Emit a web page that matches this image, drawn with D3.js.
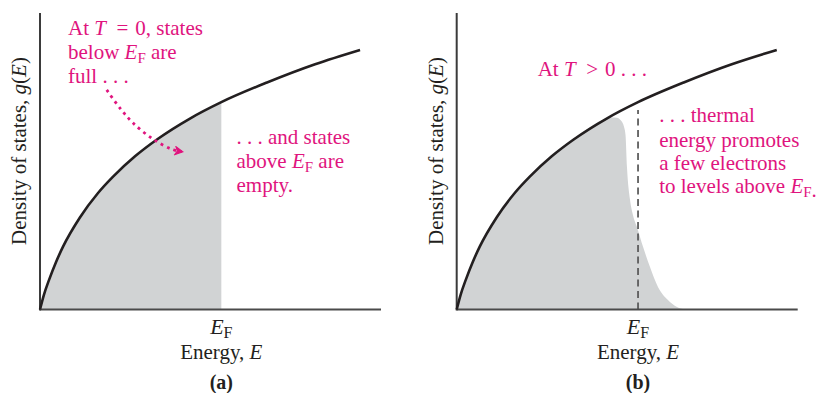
<!DOCTYPE html>
<html><head><meta charset="utf-8">
<script src="https://cdn.jsdelivr.net/npm/d3@7"></script>
<style>
html,body{margin:0;padding:0;background:#fff;}
svg text{font-family:"Liberation Serif","Times New Roman",serif;}
</style></head>
<body><svg id="c" width="817" height="393"></svg>
<script>
// Energy in units of E_F, density of states g(E) in arbitrary units
const energy = [0, 0.022, 0.050, 0.088, 0.127, 0.221, 0.320, 0.403, 0.524, 0.645, 0.827, 1.0, 1.252, 1.517, 1.765];
const dos    = [0, 0.072, 0.143, 0.228, 0.303, 0.445, 0.562, 0.641, 0.739, 0.820, 0.921, 1.0, 1.095, 1.183, 1.252];
// T > 0 : occupied states g(E) f(E) around E_F
const tailEnergy = [0.857, 0.884, 0.906, 0.923, 0.931, 0.939, 0.956, 0.972, 0.994, 1.028, 1.066, 1.110, 1.165, 1.215, 1.259];
const tailFilled = [0.926, 0.925, 0.911, 0.880, 0.842, 0.687, 0.528, 0.456, 0.398, 0.301, 0.205, 0.109, 0.046, 0.012, 0];
const fermiEnergy = 1.0;
const xDomain = [0, 1.875];
const yDomain = [0, 1.43];
// dotted arrow in panel (a), data coordinates
const arrowE = [0.368, 0.441, 0.515, 0.625, 0.726, 0.782];
const arrowG = [1.059, 0.971, 0.898, 0.821, 0.773, 0.761];

const PINK = "#e0147e";
const INK = "#231f20";
const svg = d3.select("#c");
const W = 340, H = 296.5;
const x = d3.scaleLinear().domain(xDomain).range([0, W]);
const y = d3.scaleLinear().domain(yDomain).range([H, 0]);

const curvePts = energy.map((e, i) => [e, dos[i]]);
const line = d3.line().x(d => x(d[0])).y(d => y(d[1])).curve(d3.curveMonotoneX);
const area = d3.area().x(d => x(d[0])).y0(y(0)).y1(d => y(d[1])).curve(d3.curveMonotoneX);

function addText(g, px, py, parts, opts = {}) {
  const size = opts.size || 21;
  const t = g.append("text").attr("x", px).attr("y", py)
    .attr("font-size", size).attr("fill", opts.fill || INK)
    .attr("text-anchor", opts.anchor || "start");
  if (opts.bold) t.attr("font-weight", "bold");
  parts.forEach(p => {
    const s = t.append("tspan").text(p.t);
    if (p.i) s.attr("font-style", "italic");
    if (p.sub) s.attr("font-size", Math.round(size * 0.72)).attr("dy", 4);
    if (p.up) s.attr("dy", -4);
  });
  return t;
}

function panel(ox, which) {
  const g = svg.append("g").attr("transform", `translate(${ox},13)`);
  let fillPts;
  if (which === "a") {
    fillPts = curvePts.filter(d => d[0] <= fermiEnergy);
  } else {
    fillPts = curvePts.filter(d => d[0] < tailEnergy[0]).concat(tailEnergy.map((e, i) => [e, tailFilled[i]]));
  }
  g.append("path").datum(fillPts).attr("d", area).attr("fill", "#d1d3d4");
  if (which === "b") {
    g.append("line").attr("x1", x(fermiEnergy)).attr("x2", x(fermiEnergy))
      .attr("y1", y(0)).attr("y2", y(0.962))
      .attr("stroke", "#555").attr("stroke-width", 1.7).attr("stroke-dasharray", "7,4.5");
  }
  // axes
  g.append("line").attr("x1", 0).attr("x2", 0).attr("y1", 0).attr("y2", H + 1)
    .attr("stroke", "#3b3b3b").attr("stroke-width", 2);
  g.append("line").attr("x1", 0).attr("x2", W + 1).attr("y1", H).attr("y2", H)
    .attr("stroke", "#4a4a4a").attr("stroke-width", 2);
  // curve
  g.append("path").datum(curvePts).attr("d", line).attr("fill", "none")
    .attr("stroke", INK).attr("stroke-width", 2.6);
  // labels
  addText(g, x(fermiEnergy), H + 24, [{t: "E", i: 1}, {t: "F", sub: 1}], {anchor: "middle", size: 22});
  addText(g, x(fermiEnergy), H + 49, [{t: "Energy, "}, {t: "E", i: 1}], {anchor: "middle", size: 21});
  addText(g, x(fermiEnergy), H + 79, [{t: "(" + which + ")"}], {anchor: "middle", bold: 1, size: 20});
  const yl = addText(g, 0, 0, [{t: "Density of states, "}, {t: "g", i: 1}, {t: "("}, {t: "E", i: 1}, {t: ")"}], {anchor: "middle", size: 21});
  yl.attr("x", null).attr("y", null).attr("transform", `translate(-14,138) rotate(-90)`);
  return g;
}

const ga = panel(40, "a");
const gb = panel(456.7, "b");

// Panel (a) annotations
addText(ga, 28, 22, [{t: "At "}, {t: "T", i: 1}, {t: "\u2002=\u20040, states"}], {fill: PINK});
addText(ga, 28, 46.3, [{t: "below "}, {t: "E", i: 1}, {t: "F", sub: 1}, {t: " are", up: 1}], {fill: PINK});
addText(ga, 28, 69.7, [{t: "full . . ."}], {fill: PINK});
addText(ga, 196.5, 131, [{t: ". . . and states"}], {fill: PINK});
addText(ga, 196.5, 154.7, [{t: "above "}, {t: "E", i: 1}, {t: "F", sub: 1}, {t: " are", up: 1}], {fill: PINK});
addText(ga, 196.5, 178.7, [{t: "empty."}], {fill: PINK});

const arrowPts = arrowE.map((e, i) => [e, arrowG[i]]);
const arrowLine = d3.line().x(d => x(d[0])).y(d => y(d[1])).curve(d3.curveCatmullRom);
svg.append("defs").append("marker").attr("id", "ah").attr("viewBox", "0 0 10 10")
  .attr("refX", 8).attr("refY", 5).attr("markerWidth", 10).attr("markerHeight", 10)
  .attr("markerUnits", "userSpaceOnUse").attr("orient", "auto")
  .append("path").attr("d", "M1.5,1 L9,5 L1.5,9 L3.5,5 Z").attr("fill", PINK).attr("stroke", PINK).attr("stroke-width", 1.2);
ga.append("path").datum(arrowPts).attr("d", arrowLine).attr("fill", "none")
  .attr("stroke", PINK).attr("stroke-width", 2.8).attr("stroke-dasharray", "2.8,4.2")
  .attr("marker-end", "url(#ah)");

// Panel (b) annotations
addText(gb, 81, 63, [{t: "At "}, {t: "T", i: 1}, {t: "\u2002>\u20040 . . ."}], {fill: PINK});
addText(gb, 202.5, 109.3, [{t: ". . . thermal"}], {fill: PINK});
addText(gb, 202.5, 133.7, [{t: "energy promotes"}], {fill: PINK});
addText(gb, 202.5, 157, [{t: "a few electrons"}], {fill: PINK});
addText(gb, 202.5, 180.3, [{t: "to levels above "}, {t: "E", i: 1}, {t: "F", sub: 1}, {t: "."}], {fill: PINK});
</script></body></html>
